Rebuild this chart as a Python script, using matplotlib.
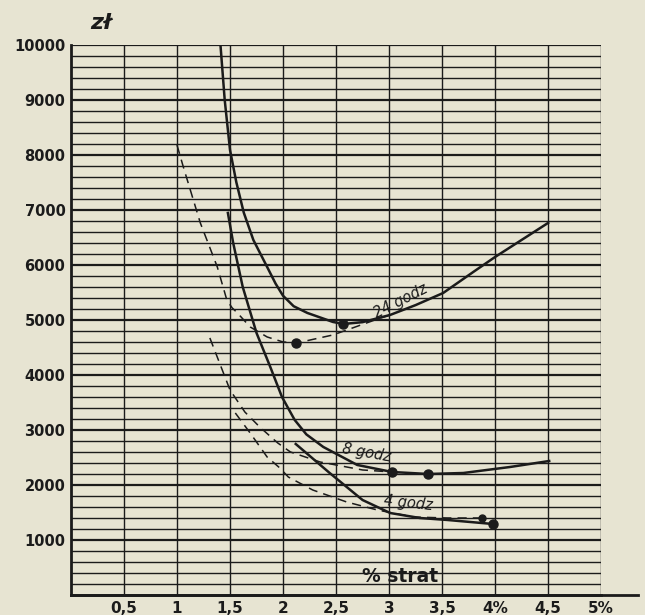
import matplotlib
matplotlib.use("Agg")
import matplotlib.pyplot as plt
import numpy as np

# % strat -> zl
s24_x = [1.41, 1.45, 1.50, 1.56, 1.63, 1.72, 1.85, 1.93, 2.00, 2.10, 2.23, 2.47, 2.57, 2.75, 3.01, 3.25, 3.51, 3.80, 4.00, 4.50]
s24_y = [10000, 9000, 8090, 7500, 6950, 6455, 5964, 5660, 5440, 5250, 5127, 4964, 4927, 4960, 5091, 5270, 5490, 5880, 6145, 6764]
d24_x = [1.00, 1.06, 1.22, 1.38, 1.47, 1.52, 1.57, 1.69, 1.85, 2.00, 2.13, 2.47, 2.92, 3.01]
d24_y = [8180, 7780, 6764, 5964, 5364, 5220, 5127, 4873, 4691, 4600, 4582, 4727, 5036, 5091]

s8_x = [1.48, 1.53, 1.62, 1.75, 1.88, 1.99, 2.11, 2.22, 2.38, 2.70, 3.03, 3.37, 3.70, 4.14, 4.51]
s8_y = [6945, 6400, 5600, 4764, 4145, 3600, 3182, 2920, 2691, 2364, 2236, 2200, 2218, 2327, 2436]
d8_x = [1.31, 1.50, 1.64, 1.78, 1.95, 2.07, 2.35, 2.75, 3.03]
d8_y = [4673, 3727, 3327, 3055, 2764, 2600, 2418, 2273, 2236]

s4_x = [2.12, 2.44, 2.75, 3.01, 3.29, 3.55, 3.98]
s4_y = [2745, 2218, 1727, 1491, 1400, 1364, 1291]
d4_x = [1.55, 1.69, 1.85, 1.97, 2.05, 2.28, 2.60, 2.89, 3.23, 3.55, 3.88]
d4_y = [3309, 2945, 2509, 2309, 2145, 1909, 1691, 1545, 1418, 1400, 1400]

dots_x = [2.57, 2.12, 3.03, 3.37, 3.98]
dots_y = [4927, 4582, 2236, 2200, 1291]
small_x = [3.88]
small_y = [1400]

xticks = [0.5, 1, 1.5, 2, 2.5, 3, 3.5, 4, 4.5, 5]
xlabels = ['0,5', '1', '1,5', '2', '2,5', '3', '3,5', '4%', '4,5', '5%']
yticks = [1000, 2000, 3000, 4000, 5000, 6000, 7000, 8000, 9000, 10000]

paper = '#e7e4d2'
ink = '#1b1b1b'

fig = plt.figure(figsize=(6.45, 6.15), dpi=100, facecolor=paper)
ax = fig.add_axes([0.110, 0.0325, 0.822, 0.8945], facecolor=paper)
ax.set_xlim(0, 5)
ax.set_ylim(0, 10000)

# siatka
for v in range(200, 10001, 200):
    lw = 1.6 if v % 1000 == 0 else 1.0
    ax.axhline(v, color=ink, lw=lw, zorder=1)
for v in xticks:
    ax.axvline(v, color=ink, lw=1.0, zorder=1)

for s in ['top', 'right']:
    ax.spines[s].set_visible(False)
ax.spines['left'].set_linewidth(2.0)
ax.spines['bottom'].set_linewidth(2.0)
ax.spines['left'].set_color(ink)
ax.spines['bottom'].set_color(ink)
ax.plot([0, 1.07], [0, 0], transform=ax.transAxes, color=ink, lw=2.0, clip_on=False)

# krzywe
ax.plot(s24_x, s24_y, color=ink, lw=1.8, zorder=3)
ax.plot(d24_x, d24_y, color=ink, lw=1.1, ls=(0, (6, 4)), zorder=3)
ax.plot(s8_x, s8_y, color=ink, lw=1.8, zorder=3)
ax.plot(d8_x, d8_y, color=ink, lw=1.1, ls=(0, (6, 4)), zorder=3)
ax.plot(s4_x, s4_y, color=ink, lw=1.8, zorder=3)
ax.plot(d4_x, d4_y, color=ink, lw=1.1, ls=(0, (6, 4)), zorder=3)
ax.plot(dots_x, dots_y, 'o', color=ink, ms=6.5, zorder=4)
ax.plot(small_x, small_y, 'o', color=ink, ms=5, zorder=4)

ax.text(3.11, 5350, '24 godz', rotation=27, ha='center', va='center',
        fontsize=10.5, style='italic', color=ink, zorder=5)
ax.text(2.79, 2580, '8 godz', rotation=-10, ha='center', va='center',
        fontsize=10.5, style='italic', color=ink, zorder=5)
ax.text(3.18, 1670, '4 godz', rotation=-6, ha='center', va='center',
        fontsize=10.5, style='italic', color=ink, zorder=5)
ax.text(3.1, 330, '% strat', ha='center', va='center', fontsize=13.5,
        fontweight='bold', color=ink, zorder=5)

ax.set_xticks(xticks)
ax.set_xticklabels(xlabels, fontsize=11, fontweight='bold', color=ink)
ax.set_yticks(yticks)
ax.set_yticklabels([str(v) for v in yticks], fontsize=10.5, fontweight='bold', color=ink)
ax.tick_params(length=0, pad=4)

fig.text(0.157, 0.963, 'zł', fontsize=16, fontweight='bold', style='italic',
         color=ink, ha='center', va='center')

fig.savefig('out.png', dpi=100, facecolor=paper)
